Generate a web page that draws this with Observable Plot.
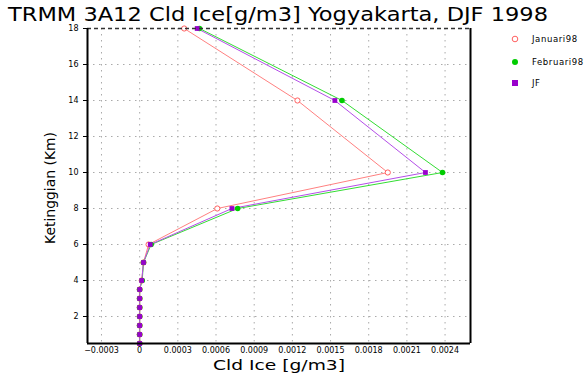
<!DOCTYPE html>
<html>
<head>
<meta charset="utf-8">
<script src="https://cdn.jsdelivr.net/npm/d3@7"></script>
<script src="https://cdn.jsdelivr.net/npm/@observablehq/plot@0.6"></script>
<style>
  html, body { margin: 0; padding: 0; background: #fff; }
  svg { font-family: "DejaVu Sans", sans-serif; }
</style>
</head>
<body>
<div id="chart"></div>
<script>
const heights = [0.5, 1, 1.5, 2, 2.5, 3, 3.5, 4, 5, 6, 8, 10, 14, 18];
const januari98 = [0, 0, 0, 0, 0, 0, 0, 0.000016, 0.00003, 0.00007, 0.00061, 0.00195, 0.00124, 0.00035];
const februari98 = [0, 0, 0, 0, 0, 0, 0, 0.00002, 0.00003, 0.00009, 0.00077, 0.00238, 0.00159, 0.00047];
const jf = [0, 0, 0, 0, 0, 0, 0, 0.000016, 0.00003, 0.000083, 0.000725, 0.002246, 0.001534, 0.000452];
const xTicks = [-0.0003, 0, 0.0003, 0.0006, 0.0009, 0.0012, 0.0015, 0.0018, 0.0021, 0.0024];
const yTicks = [2, 4, 6, 8, 10, 12, 14, 16, 18];
const xDomain = [-0.00041, 0.0026];
const yDomain = [0.5, 18];
const seriesNames = ["Januari98", "Februari98", "JF"];

const rows = (vals) => heights.map((h, i) => ({h, v: vals[i]}));
const janRows = rows(januari98), febRows = rows(februari98), jfRows = rows(jf);

const fmt = d => d === 0 ? "0" : (d < 0 ? "\u2212" : "") + Math.abs(d).toFixed(4);

const plot = Plot.plot({
  width: 588,
  height: 376,
  marginLeft: 87,
  marginRight: 118,
  marginTop: 28,
  marginBottom: 33,
  style: {fontFamily: "DejaVu Sans, sans-serif", fontSize: "8px", background: "#fff"},
  x: {domain: xDomain, ticks: xTicks, tickFormat: fmt, label: null},
  y: {domain: yDomain, ticks: yTicks, label: null},
  marks: [
    Plot.ruleX(xTicks, {stroke: "#aaaaaa", strokeDasharray: "1.5,4.5", strokeWidth: 1}),
    Plot.ruleY(yTicks.filter(d => d < 18), {stroke: "#aaaaaa", strokeDasharray: "1.5,4.5", strokeWidth: 1}),
    Plot.line(janRows, {x: "v", y: "h", stroke: "#ff8080", strokeWidth: 1}),
    Plot.line(febRows, {x: "v", y: "h", stroke: "#33dd33", strokeWidth: 1}),
    Plot.line(jfRows, {x: "v", y: "h", stroke: "#b44ee8", strokeWidth: 1}),
    Plot.dot(janRows, {x: "v", y: "h", r: 2.6, stroke: "#ff6060", fill: "#fff", strokeWidth: 1}),
    Plot.dot(febRows, {x: "v", y: "h", r: 2.8, fill: "#00cc00", stroke: "none"}),
    Plot.dot(jfRows, {x: "v", y: "h", symbol: "square", r: 2.7, fill: "#9900cc", stroke: "none"}),
    Plot.ruleY([yDomain[1]], {stroke: "#333", strokeWidth: 1.5, strokeDasharray: "4,3"}),
    Plot.ruleY([yDomain[0]], {stroke: "#000", strokeWidth: 2}),
    Plot.ruleX([xDomain[0], xDomain[1]], {stroke: "#000", strokeWidth: 2}),
    Plot.axisX({ticks: xTicks, tickFormat: fmt, tickSize: 0, tickPadding: 4, fontSize: 8, label: null}),
    Plot.axisY({ticks: yTicks, tickSize: 4, tickPadding: 5, fontSize: 8, label: null})
  ]
});

const svg = d3.select(plot);
svg.append("text")
  .attr("x", 8).attr("y", 21)
  .attr("text-anchor", "start")
  .attr("font-size", 19)
  .attr("textLength", 540)
  .attr("lengthAdjust", "spacingAndGlyphs")
  .attr("fill", "#000")
  .text("TRMM 3A12 Cld Ice[g/m3] Yogyakarta, DJF 1998");

svg.append("text")
  .attr("x", 279).attr("y", 370)
  .attr("text-anchor", "middle")
  .attr("font-size", 14)
  .attr("textLength", 132)
  .attr("lengthAdjust", "spacingAndGlyphs")
  .text("Cld Ice [g/m3]");

svg.append("text")
  .attr("transform", "translate(55,188) rotate(-90)")
  .attr("text-anchor", "middle")
  .attr("font-size", 13.5)
  .attr("textLength", 112)
  .attr("lengthAdjust", "spacingAndGlyphs")
  .text("Ketinggian (Km)");

const lg = svg.append("g").attr("font-size", 8.5).attr("text-anchor", "start");
const ly = [39, 62, 83];
lg.append("circle").attr("cx", 515).attr("cy", ly[0]).attr("r", 2.8).attr("fill", "#fff").attr("stroke", "#ff6060");
lg.append("circle").attr("cx", 515).attr("cy", ly[1]).attr("r", 3).attr("fill", "#00cc00");
lg.append("rect").attr("x", 512).attr("y", ly[2] - 3).attr("width", 6).attr("height", 6).attr("fill", "#9900cc");
seriesNames.forEach((name, i) => {
  lg.append("text").attr("x", 532).attr("y", ly[i]).attr("dy", "0.35em")
    .attr("text-anchor", "start")
    .attr("letter-spacing", 0.6).text(name);
});

document.getElementById("chart").appendChild(plot);
</script>
</body>
</html>
